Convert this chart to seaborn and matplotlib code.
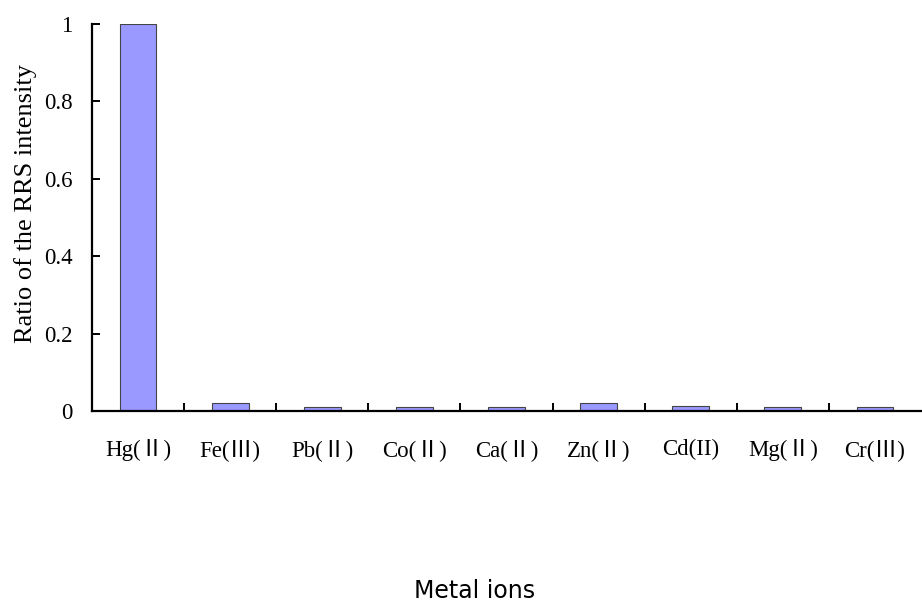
import matplotlib
matplotlib.use("Agg")
import matplotlib.pyplot as plt
import seaborn as sns
import pandas as pd
from matplotlib.ticker import FixedLocator, FuncFormatter

ions = ["Hg(Ⅱ)", "Fe(Ⅲ)", "Pb(Ⅱ)", "Co(Ⅱ)", "Ca(Ⅱ)", "Zn(Ⅱ)", "Cd(II)", "Mg(Ⅱ)", "Cr(Ⅲ)"]
ratio = [1.0, 0.02, 0.01, 0.01, 0.01, 0.02, 0.013, 0.01, 0.01]
y_ticks = [0, 0.2, 0.4, 0.6, 0.8, 1.0]

sns.set_style("white")
serif = ["Liberation Serif", "Noto Sans CJK SC", "DejaVu Sans"]

df = pd.DataFrame({"ion": ions, "ratio": ratio})

fig = plt.figure(figsize=(9.22, 6.04), dpi=100)
ax = fig.add_axes([92 / 922, 1 - 411 / 604, (921 - 92) / 922, (411 - 24) / 604])

sns.barplot(data=df, x="ion", y="ratio", color="#9999FF", width=0.4,
            edgecolor="#444444", linewidth=0.8, saturation=1, ax=ax)

ax.set_xlim(-0.5, len(ions) - 0.5)
ax.set_ylim(0, 1.0)

for s in ["top", "right"]:
    ax.spines[s].set_visible(False)
for s in ["left", "bottom"]:
    ax.spines[s].set_color("black")
    ax.spines[s].set_linewidth(1.6)

ax.set_yticks(y_ticks)
ax.yaxis.set_major_formatter(FuncFormatter(lambda v, p: f"{v:g}"))
ax.tick_params(axis="y", left=True, direction="in", length=6, width=1.4,
               colors="black", pad=14, labelsize=16.5)
for lab in ax.get_yticklabels():
    lab.set_family(serif)

# category labels without ticks; boundary ticks between categories
ax.tick_params(axis="x", which="major", bottom=True, length=0, pad=20,
               labelsize=16.5, labelcolor="black")
ax.xaxis.set_minor_locator(FixedLocator([i + 0.5 for i in range(len(ions) - 1)]))
ax.tick_params(axis="x", which="minor", bottom=True, direction="in", length=6,
               width=1.4, color="black")
for lab in ax.get_xticklabels():
    lab.set_family(serif)

ax.set_ylabel("Ratio of the RRS intensity", family=serif, fontsize=19, color="black")
ax.yaxis.set_label_coords(-0.066, 0.535)
ax.set_xlabel("")
fig.text(475 / 922, 1 - 598 / 604, "Metal ions", family="DejaVu Sans", fontsize=17,
         ha="center", va="baseline", color="black")

fig.savefig("out.png", dpi=100, facecolor="white")
